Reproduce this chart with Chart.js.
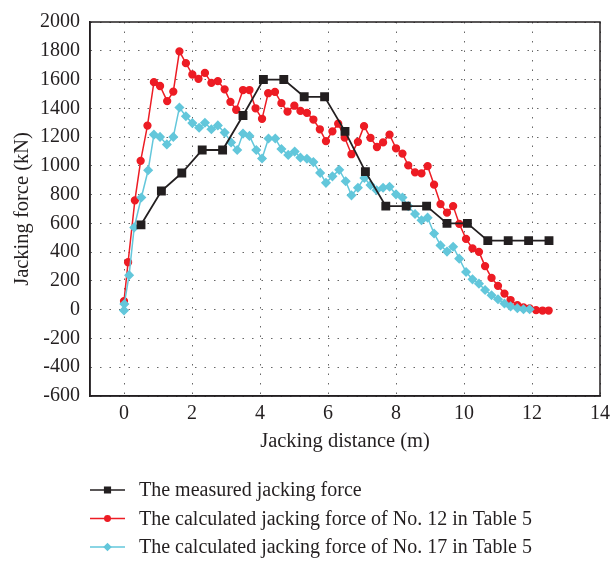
<!DOCTYPE html>
<html>
<head>
<meta charset="utf-8">
<script src="https://cdn.jsdelivr.net/npm/chart.js@4.4.0/dist/chart.umd.min.js"></script>
<style>
  html, body { margin: 0; padding: 0; background: #fff; }
  #wrap { width: 616px; height: 561px; }
</style>
</head>
<body>
<div id="wrap"><canvas id="forceChart"></canvas></div>
<script>
// measured jacking force
var measuredX = [0.5, 1.1, 1.7, 2.3, 2.9, 3.5, 4.1, 4.7, 5.3, 5.9, 6.5, 7.1, 7.7, 8.3, 8.9, 9.5, 10.1, 10.7, 11.3, 11.9, 12.5];
var measuredY = [590, 825, 950, 1110, 1110, 1350, 1600, 1600, 1480, 1480, 1240, 960, 720, 720, 720, 600, 600, 480, 480, 480, 480];

// calculated, No. 12
var no12X = [0, 0.12, 0.32, 0.49, 0.69, 0.88, 1.06, 1.27, 1.45, 1.63, 1.82, 2.01, 2.19, 2.38, 2.57, 2.76, 2.96, 3.13, 3.30, 3.50,
  3.69, 3.87, 4.06, 4.24, 4.44, 4.63, 4.81, 5.01, 5.19, 5.38, 5.57, 5.76, 5.94, 6.13, 6.30, 6.49, 6.69, 6.88, 7.06, 7.25,
  7.44, 7.62, 7.81, 8.00, 8.19, 8.36, 8.56, 8.75, 8.93, 9.12, 9.31, 9.50, 9.68, 9.86, 10.06, 10.25, 10.44, 10.62, 10.81, 11.00,
  11.19, 11.37, 11.57, 11.75, 11.93, 12.12, 12.31, 12.49];
var no12Y = [60, 330, 760, 1035, 1280, 1582, 1555, 1450, 1516, 1796, 1714, 1635, 1605, 1646, 1577, 1589, 1532, 1445, 1390, 1527,
  1527, 1400, 1327, 1505, 1514, 1436, 1377, 1418, 1382, 1368, 1322, 1254, 1172, 1240, 1293, 1197, 1081, 1167, 1276, 1194,
  1131, 1163, 1217, 1122, 1085, 1003, 955, 948, 998, 869, 734, 675, 720, 597, 492, 426, 402, 303, 221, 166,
  112, 67, 31, 16, 9, -3, -6, -6];

// calculated, No. 17
var no17X = [0, 0.01, 0.15, 0.30, 0.51, 0.71, 0.88, 1.06, 1.26, 1.45, 1.63, 1.82, 2.01, 2.21, 2.38, 2.57, 2.76, 2.96, 3.15, 3.33,
  3.50, 3.69, 3.89, 4.06, 4.25, 4.45, 4.63, 4.83, 5.02, 5.19, 5.38, 5.57, 5.77, 5.94, 6.13, 6.33, 6.52, 6.69, 6.88, 7.07,
  7.25, 7.43, 7.62, 7.81, 8.00, 8.19, 8.36, 8.56, 8.75, 8.93, 9.12, 9.31, 9.50, 9.68, 9.86, 10.06, 10.25, 10.44, 10.62, 10.81,
  11.00, 11.19, 11.37, 11.57, 11.75, 11.93];
var no17Y = [-5, 40, 240, 572, 780, 969, 1217, 1201, 1149, 1201, 1406, 1345, 1297, 1265, 1300, 1254, 1281, 1231, 1163, 1110,
  1224, 1208, 1110, 1051, 1190, 1190, 1117, 1076, 1099, 1057, 1049, 1026, 951, 882, 927, 972, 893, 795, 848, 916,
  866, 830, 848, 855, 802, 780, 720, 665, 622, 640, 530, 447, 404, 438, 355, 262, 211, 181, 137, 100,
  73, 43, 23, 10, 3, 3];

var xTicks = [0, 2, 4, 6, 8, 10, 12, 14];

var seriesNames = [
  'The measured jacking force',
  'The calculated jacking force of No. 12 in Table 5',
  'The calculated jacking force of No. 17 in Table 5'
];

function toPoints(xs, ys) {
  return xs.map(function(x, i) { return {x: x, y: ys[i]}; });
}

var serif = "'Liberation Serif', 'Times New Roman', serif";

// box around the plot area
var frameBox = {
  id: 'frameBox',
  beforeDatasetsDraw: function(chart) {
    var a = chart.chartArea, ctx = chart.ctx;
    ctx.save();
    ctx.strokeStyle = '#231f20';
    ctx.lineWidth = 1.5;
    ctx.strokeRect(a.left, a.top, a.right - a.left, a.bottom - a.top);
    ctx.restore();
  }
};

// legend stacked in rows under the x title, line + marker sample
var rowLegend = {
  id: 'rowLegend',
  afterDraw: function(chart) {
    var ctx = chart.ctx;
    var rows = [490, 518.5, 547];
    chart.data.datasets.forEach(function(ds, i) {
      var y = rows[i];
      ctx.save();
      ctx.strokeStyle = ds.borderColor;
      ctx.lineWidth = 1.5;
      ctx.beginPath();
      ctx.moveTo(90, y);
      ctx.lineTo(125, y);
      ctx.stroke();
      ctx.fillStyle = ds.pointBackgroundColor;
      ctx.strokeStyle = ds.pointBorderColor;
      Chart.helpers.drawPoint(ctx, {pointStyle: ds.pointStyle, radius: ds.pointRadius * 0.8, rotation: 0, borderWidth: 1}, 107.5, y);
      ctx.fillStyle = '#231f20';
      ctx.font = '20px ' + serif;
      ctx.textBaseline = 'middle';
      ctx.textAlign = 'left';
      ctx.fillText(ds.label, 139, y + 1);
      ctx.restore();
    });
  }
};

var ctx = document.getElementById('forceChart');
var forceChart = new Chart(ctx, {
  type: 'line',
  data: {
    datasets: [{
      label: seriesNames[0],
      data: toPoints(measuredX, measuredY),
      borderColor: '#231f20',
      backgroundColor: '#231f20',
      pointBackgroundColor: '#231f20',
      pointBorderColor: '#231f20',
      pointStyle: 'rect',
      pointRadius: 5,
      borderWidth: 1.8,
      order: 0
    }, {
      label: seriesNames[1],
      data: toPoints(no12X, no12Y),
      borderColor: '#ed1c24',
      backgroundColor: '#ed1c24',
      pointBackgroundColor: '#ed1c24',
      pointBorderColor: '#ed1c24',
      pointStyle: 'circle',
      pointRadius: 3.4,
      borderWidth: 1.5,
      order: 2
    }, {
      label: seriesNames[2],
      data: toPoints(no17X, no17Y),
      borderColor: '#63c7db',
      backgroundColor: '#63c7db',
      pointBackgroundColor: '#63c7db',
      pointBorderColor: '#63c7db',
      pointStyle: 'rectRot',
      pointRadius: 4,
      borderWidth: 1.5,
      order: 1
    }]
  },
  options: {
    responsive: true,
    maintainAspectRatio: false,
    animation: false,
    layout: {
      padding: {top: 15, right: 10, bottom: 105, left: 0}
    },
    plugins: {
      legend: {display: false},
      tooltip: {enabled: false}
    },
    scales: {
      x: {
        type: 'linear',
        min: -1,
        max: 14,
        afterBuildTicks: function(scale) {
          scale.ticks = xTicks.map(function(v) { return {value: v}; });
        },
        afterFit: function(scale) { scale.height = 60; },
        grid: {color: '#666', lineWidth: 1, drawTicks: false},
        border: {display: true, color: '#231f20', width: 1.5, dash: [1.5, 8]},
        ticks: {
          padding: 6,
          color: '#231f20',
          maxRotation: 0,
          font: {family: serif, size: 20},
          callback: function(v) { return String(v); }
        },
        title: {
          display: true,
          text: 'Jacking distance (m)',
          color: '#231f20',
          font: {family: serif, size: 20.5},
          padding: {top: 0, bottom: 2}
        }
      },
      y: {
        min: -600,
        max: 2000,
        afterFit: function(scale) { scale.width = 90; },
        grid: {color: '#666', lineWidth: 1, drawTicks: false},
        border: {display: true, color: '#231f20', width: 1.5, dash: [1.5, 8]},
        ticks: {
          stepSize: 200,
          padding: 10,
          color: '#231f20',
          font: {family: serif, size: 20},
          callback: function(v) { return String(v); }
        },
        title: {
          display: true,
          text: 'Jacking force (kN)',
          color: '#231f20',
          font: {family: serif, size: 20.5},
          padding: {top: 10, bottom: 0}
        }
      }
    }
  },
  plugins: [frameBox, rowLegend]
});
</script>
</body>
</html>
